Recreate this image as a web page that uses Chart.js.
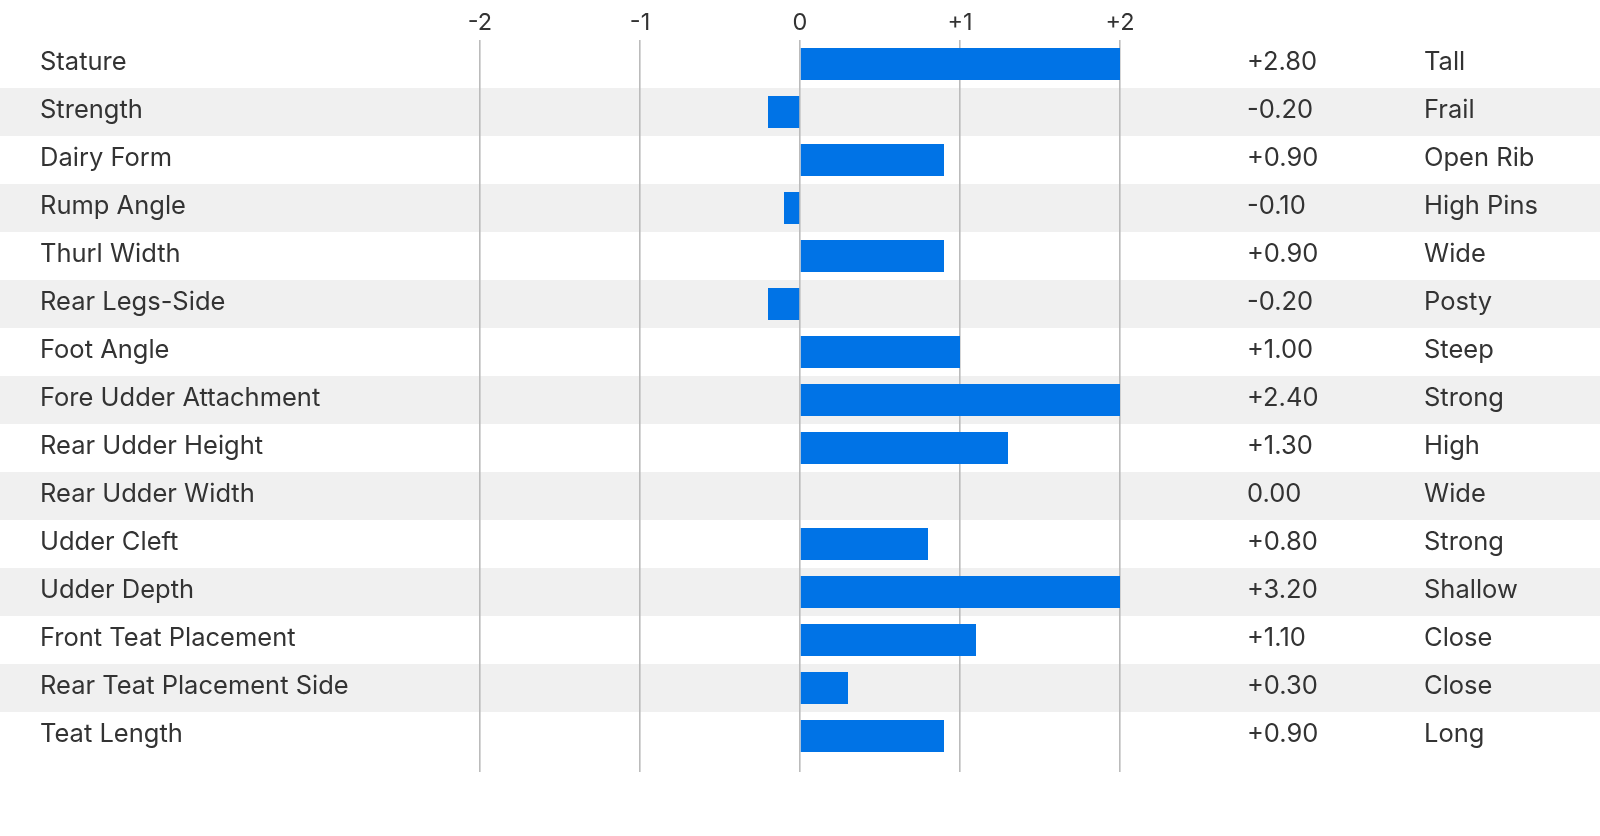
<!DOCTYPE html>
<html>
<head>
<meta charset="utf-8">
<script src="https://cdn.jsdelivr.net/npm/chart.js@4/dist/chart.umd.min.js"></script>
<style>
  html, body { margin: 0; padding: 0; background: #fff; }
  #wrap { width: 1600px; height: 836px; }
</style>
</head>
<body>
<div id="wrap"><canvas id="traitChart" width="1600" height="836"></canvas></div>
<script>
// traits and their scores
const traits = [
    "Stature", "Strength", "Dairy Form", "Rump Angle", "Thurl Width",
    "Rear Legs-Side", "Foot Angle", "Fore Udder Attachment", "Rear Udder Height",
    "Rear Udder Width", "Udder Cleft", "Udder Depth", "Front Teat Placement",
    "Rear Teat Placement Side", "Teat Length"
];
const scores = [2.8, -0.2, 0.9, -0.1, 0.9, -0.2, 1.0, 2.4, 1.3, 0.0, 0.8, 3.2, 1.1, 0.3, 0.9];
const descriptors = [
    "Tall", "Frail", "Open Rib", "High Pins", "Wide", "Posty", "Steep", "Strong",
    "High", "Wide", "Strong", "Shallow", "Close", "Close", "Long"
];
const axisTicks = [-2, -1, 0, 1, 2];

const textColor = "#333333";
const fontFamily = "Inter, 'Noto Sans', sans-serif";

function fmtScore(v) {
    if (v === 0) return "0.00";
    return (v > 0 ? "+" : "") + v.toFixed(2);
}
function fmtTick(v) {
    return v > 0 ? "+" + v : String(v);
}

// stripes behind every other row
const rowBands = {
    id: "rowBands",
    beforeDraw(chart) {
        const ctx = chart.ctx;
        const y = chart.scales.y;
        const half = (y.getPixelForValue(1) - y.getPixelForValue(0)) / 2;
        ctx.save();
        ctx.fillStyle = "#f0f0f0";
        traits.forEach((t, i) => {
            if (i % 2 === 1) {
                const c = y.getPixelForValue(i);
                ctx.fillRect(0, c - half, chart.width, half * 2);
            }
        });
        ctx.restore();
    }
};

const labelFont = { family: fontFamily, size: 25.5 };

// fixed width for side columns, no vertical padding from the big tick padding
function sideFit(w) {
    return s => {
        s.width = w;
        s.paddingTop = 0;
        s.paddingBottom = 0;
    };
}

new Chart(document.getElementById("traitChart"), {
    type: "bar",
    data: {
        labels: traits,
        datasets: [{
            data: scores,
            backgroundColor: "#0073e6",
            borderWidth: 0,
            barPercentage: 0.667,
            categoryPercentage: 1,
            clip: 0
        }]
    },
    options: {
        indexAxis: "y",
        responsive: false,
        animation: false,
        layout: { padding: { left: 40, right: 0, top: 0, bottom: 64 } },
        plugins: {
            legend: { display: false },
            tooltip: { enabled: false }
        },
        scales: {
            x: {
                position: "bottom",
                min: -2,
                max: 2,
                afterBuildTicks: s => { s.ticks = axisTicks.map(v => ({ value: v })); },
                ticks: { display: false },
                grid: { color: "#bbbbbb", lineWidth: 1.6, drawTicks: true, tickLength: 12 },
                border: { display: false },
                afterFit: s => { s.height = 12; }
            },
            xTop: {
                type: "linear",
                position: "top",
                min: -2,
                max: 2,
                afterBuildTicks: s => { s.ticks = axisTicks.map(v => ({ value: v })); },
                ticks: {
                    color: textColor,
                    font: { family: fontFamily, size: 23.5 },
                    padding: 3,
                    maxRotation: 0,
                    callback: v => fmtTick(v)
                },
                grid: { display: false, drawTicks: false },
                border: { display: false },
                afterFit: s => { s.height = 40; }
            },
            y: {
                position: "left",
                ticks: {
                    color: textColor,
                    font: labelFont,
                    crossAlign: "far",
                    padding: 0,
                    labelOffset: -2
                },
                grid: { display: false, drawTicks: false },
                border: { display: false },
                afterFit: sideFit(440)
            },
            yVal: {
                type: "category",
                position: "right",
                weight: 1,
                labels: traits,
                ticks: {
                    color: textColor,
                    font: labelFont,
                    crossAlign: "near",
                    padding: 127,
                    labelOffset: -2,
                    callback: (v, i) => fmtScore(scores[i])
                },
                grid: { display: false, drawTicks: false },
                border: { display: false },
                afterFit: sideFit(280)
            },
            yDesc: {
                type: "category",
                position: "right",
                weight: 2,
                labels: traits,
                ticks: {
                    color: textColor,
                    font: labelFont,
                    crossAlign: "near",
                    padding: 24,
                    labelOffset: -2,
                    callback: (v, i) => descriptors[i]
                },
                grid: { display: false, drawTicks: false },
                border: { display: false },
                afterFit: sideFit(200)
            }
        }
    },
    plugins: [rowBands]
});
</script>
</body>
</html>
